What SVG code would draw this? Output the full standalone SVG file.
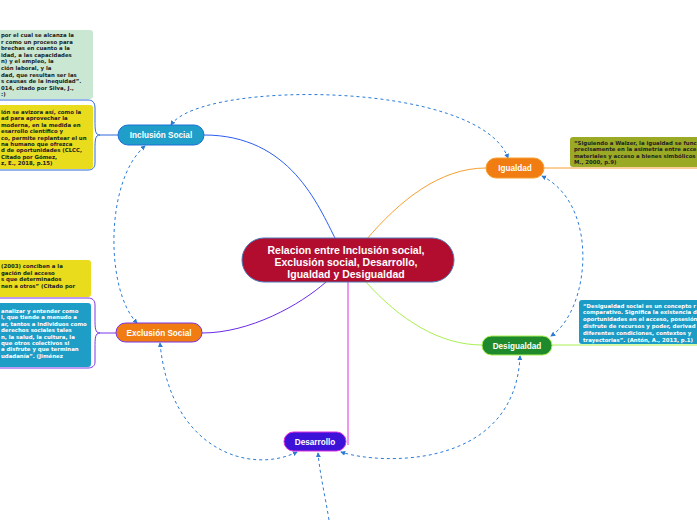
<svg xmlns="http://www.w3.org/2000/svg" width="697" height="520" viewBox="0 0 697 520">
<defs>
<marker id="ah" viewBox="0 0 6 6" refX="5" refY="3" markerWidth="5" markerHeight="5" orient="auto-start-reverse" markerUnits="userSpaceOnUse">
<path d="M0,0 L6,3 L0,6 z" fill="#2b7bd6"/>
</marker>
<style>
.node text{font-family:"Liberation Sans",Arial,sans-serif;font-weight:bold;fill:#fff;text-anchor:middle}
.lbl{font-size:8.2px}
.ctr{font-size:10.5px}
.note{font-family:"DejaVu Sans",Verdana,sans-serif;font-weight:bold;font-size:5.4px}
.dk{fill:#222}
.wh{fill:#fff}
.rel{fill:none;stroke:#2b7bd6;stroke-width:1;stroke-dasharray:3 3;marker-start:url(#ah);marker-end:url(#ah)}
.br{fill:none;stroke-width:1}
</style>
</defs>
<rect width="697" height="520" fill="#fff"/>

<g id="connectors">
<path d="M204,135 C290,135 318,205 336,240" class="br" stroke="#2a5cf0"/>
<path d="M366,240 C400,200 440,168 486,168" class="br" stroke="#f5a030"/>
<path d="M366,282 C400,320 440,345 482,345" class="br" stroke="#a8f050"/>
<path d="M348,282 L348,445" class="br" stroke="#e030e0"/>
<path d="M326,282 C300,305 250,333 202,333" class="br" stroke="#6a2ae8"/>
<path d="M118,135 L100,135 C95,135 95,130 95,120 L95,108 C95,102 92,100 88,100 L0,100" class="br" stroke="#2a6ad8"/>
<path d="M100,135 C95,135 95,140 95,150 L95,163 C95,168 92,170 88,170 L0,170" class="br" stroke="#2a6ad8"/>
<path d="M116,333 L100,333 C95,333 95,328 95,318 L95,305 C95,300 92,298 88,298 L0,298" class="br" stroke="#7a34e8"/>
<path d="M100,333 C95,333 95,338 95,348 L95,362 C95,366 92,368 88,368 L0,368" class="br" stroke="#7a34e8"/>
<path d="M544,168 L697,168" class="br" stroke="#f5a030"/>
<path d="M552,345 L697,345" class="br" stroke="#a8f050"/>
<path class="rel" d="M171,125 C200,80 480,80 508,158"/>
<path class="rel" d="M542,176 C600,205 590,310 551,336"/>
<path class="rel" d="M520,356 C515,470 380,465 341,452"/>
<path class="rel" d="M297,452 C250,475 170,450 160,343"/>
<path class="rel" d="M137,323 C105,290 105,180 145,146"/>
<path d="M329,520 C325,495 320,475 318,453" fill="none" stroke="#2b7bd6" stroke-width="1" stroke-dasharray="3 3" marker-end="url(#ah)"/>
</g>

<g id="note-inc-1">
<rect x="-4" y="30" width="97" height="69" rx="3" fill="#c9e7d3"/>
<text class="note dk"><tspan x="1" y="37">por el cual se alcanza la</tspan><tspan x="1" y="43.6">r como un proceso para</tspan><tspan x="1" y="50.2">brechas en cuanto a la</tspan><tspan x="1" y="56.8">idad, a las capacidades</tspan><tspan x="1" y="63.4">n) y el empleo, la</tspan><tspan x="1" y="70">ción laboral, y la</tspan><tspan x="1" y="76.6">dad, que resultan ser las</tspan><tspan x="1" y="83.2">s causas de la inequidad”.</tspan><tspan x="1" y="89.8">014, citado por Silva, J.,</tspan><tspan x="1" y="96.4">:)</tspan></text>
</g>
<g id="note-inc-2">
<rect x="-4" y="105" width="97" height="64" rx="3" fill="#e8dc1c"/>
<text class="note dk"><tspan x="1" y="114">ión se avizora así, como la</tspan><tspan x="1" y="120.4">ad para aprovechar la</tspan><tspan x="1" y="126.8">moderna, en la medida en</tspan><tspan x="1" y="133.2">esarrollo científico y</tspan><tspan x="1" y="139.6">co, permite replantear el un</tspan><tspan x="1" y="146">na humano que ofrezca</tspan><tspan x="1" y="152.4">d de oportunidades (CLCC,</tspan><tspan x="1" y="158.8">Citado por Gómez,</tspan><tspan x="1" y="165.2">z, E., 2018, p.15)</tspan></text>
</g>
<g id="note-exc-1">
<rect x="-4" y="260" width="95" height="37" rx="3" fill="#e8dc1c"/>
<text class="note dk"><tspan x="1" y="268">(2003) conciben a la</tspan><tspan x="1" y="274.6">gación del acceso</tspan><tspan x="1" y="281.2">s que determinados</tspan><tspan x="1" y="287.8">nen a otros” (Citado por</tspan></text>
</g>
<g id="note-exc-2">
<rect x="-4" y="303" width="95" height="64" rx="3" fill="#1e9ec7"/>
<text class="note wh"><tspan x="1" y="313">analizar y entender como</tspan><tspan x="1" y="319.4">l, que tiende a menudo a</tspan><tspan x="1" y="325.8">ar, tantos a individuos como</tspan><tspan x="1" y="332.2">derechos sociales tales</tspan><tspan x="1" y="338.6">n, la salud, la cultura, la</tspan><tspan x="1" y="345">que otros colectivos si</tspan><tspan x="1" y="351.4">a disfrute y que terminan</tspan><tspan x="1" y="357.8">udadanía”. (Jiménez</tspan></text>
</g>
<g id="note-igu">
<rect x="570" y="137" width="130" height="30" rx="3" fill="#9aaa24"/>
<text class="note dk"><tspan x="574" y="145">“Siguiendo a Walzer, la igualdad se func</tspan><tspan x="574" y="151.3">precisamente en la asimetría entre acce</tspan><tspan x="574" y="157.6">materiales y acceso a bienes simbólicos</tspan><tspan x="574" y="163.9">M., 2000, p.9)</tspan></text>
</g>
<g id="note-des">
<rect x="579" y="300" width="121" height="44" rx="3" fill="#1a9cc6"/>
<text class="note wh"><tspan x="583" y="307.5">“Desigualdad social es un concepto r</tspan><tspan x="583" y="314.3">comparativo. Significa la existencia d</tspan><tspan x="583" y="321.1">oportunidades en el acceso, posesión</tspan><tspan x="583" y="327.9">disfrute de recursos y poder, derivad</tspan><tspan x="583" y="334.7">diferentes condiciones, contextos y</tspan><tspan x="583" y="341.5">trayectorias”. (Antón, A., 2013, p.1)</tspan></text>
</g>

<g id="central" class="node">
<rect x="242" y="238" width="212" height="44" rx="22" fill="#b20c2e" stroke="#4a78b8" stroke-width="1"/>
<text class="ctr"><tspan x="346" y="253.5">Relacion entre Inclusión social,</tspan><tspan x="346" y="265.5">Exclusión social, Desarrollo,</tspan><tspan x="346" y="277.5">Igualdad y Desigualdad</tspan></text>
</g>
<g id="inclusion" class="node">
<rect x="118" y="125" width="86" height="20" rx="10" fill="#1e9ec9" stroke="#1d6fd6" stroke-width="1"/>
<text class="lbl" x="161" y="138">Inclusión Social</text>
</g>
<g id="exclusion" class="node">
<rect x="116" y="323" width="86" height="19" rx="9.5" fill="#f07c12" stroke="#7a34e8" stroke-width="1"/>
<text class="lbl" x="159" y="335.5">Exclusión Social</text>
</g>
<g id="igualdad" class="node">
<rect x="486" y="158" width="58" height="20" rx="10" fill="#f07c12" stroke="#f5a030" stroke-width="1"/>
<text class="lbl" x="515" y="171">Igualdad</text>
</g>
<g id="desigualdad" class="node">
<rect x="482" y="336" width="70" height="19" rx="9.5" fill="#1f8a2c" stroke="#a8f050" stroke-width="1"/>
<text class="lbl" x="517" y="348.5">Desigualdad</text>
</g>
<g id="desarrollo" class="node">
<rect x="284" y="432" width="62" height="19" rx="9.5" fill="#3c12d8" stroke="#e030e0" stroke-width="1"/>
<text class="lbl" x="315" y="444.5">Desarrollo</text>
</g>
</svg>
